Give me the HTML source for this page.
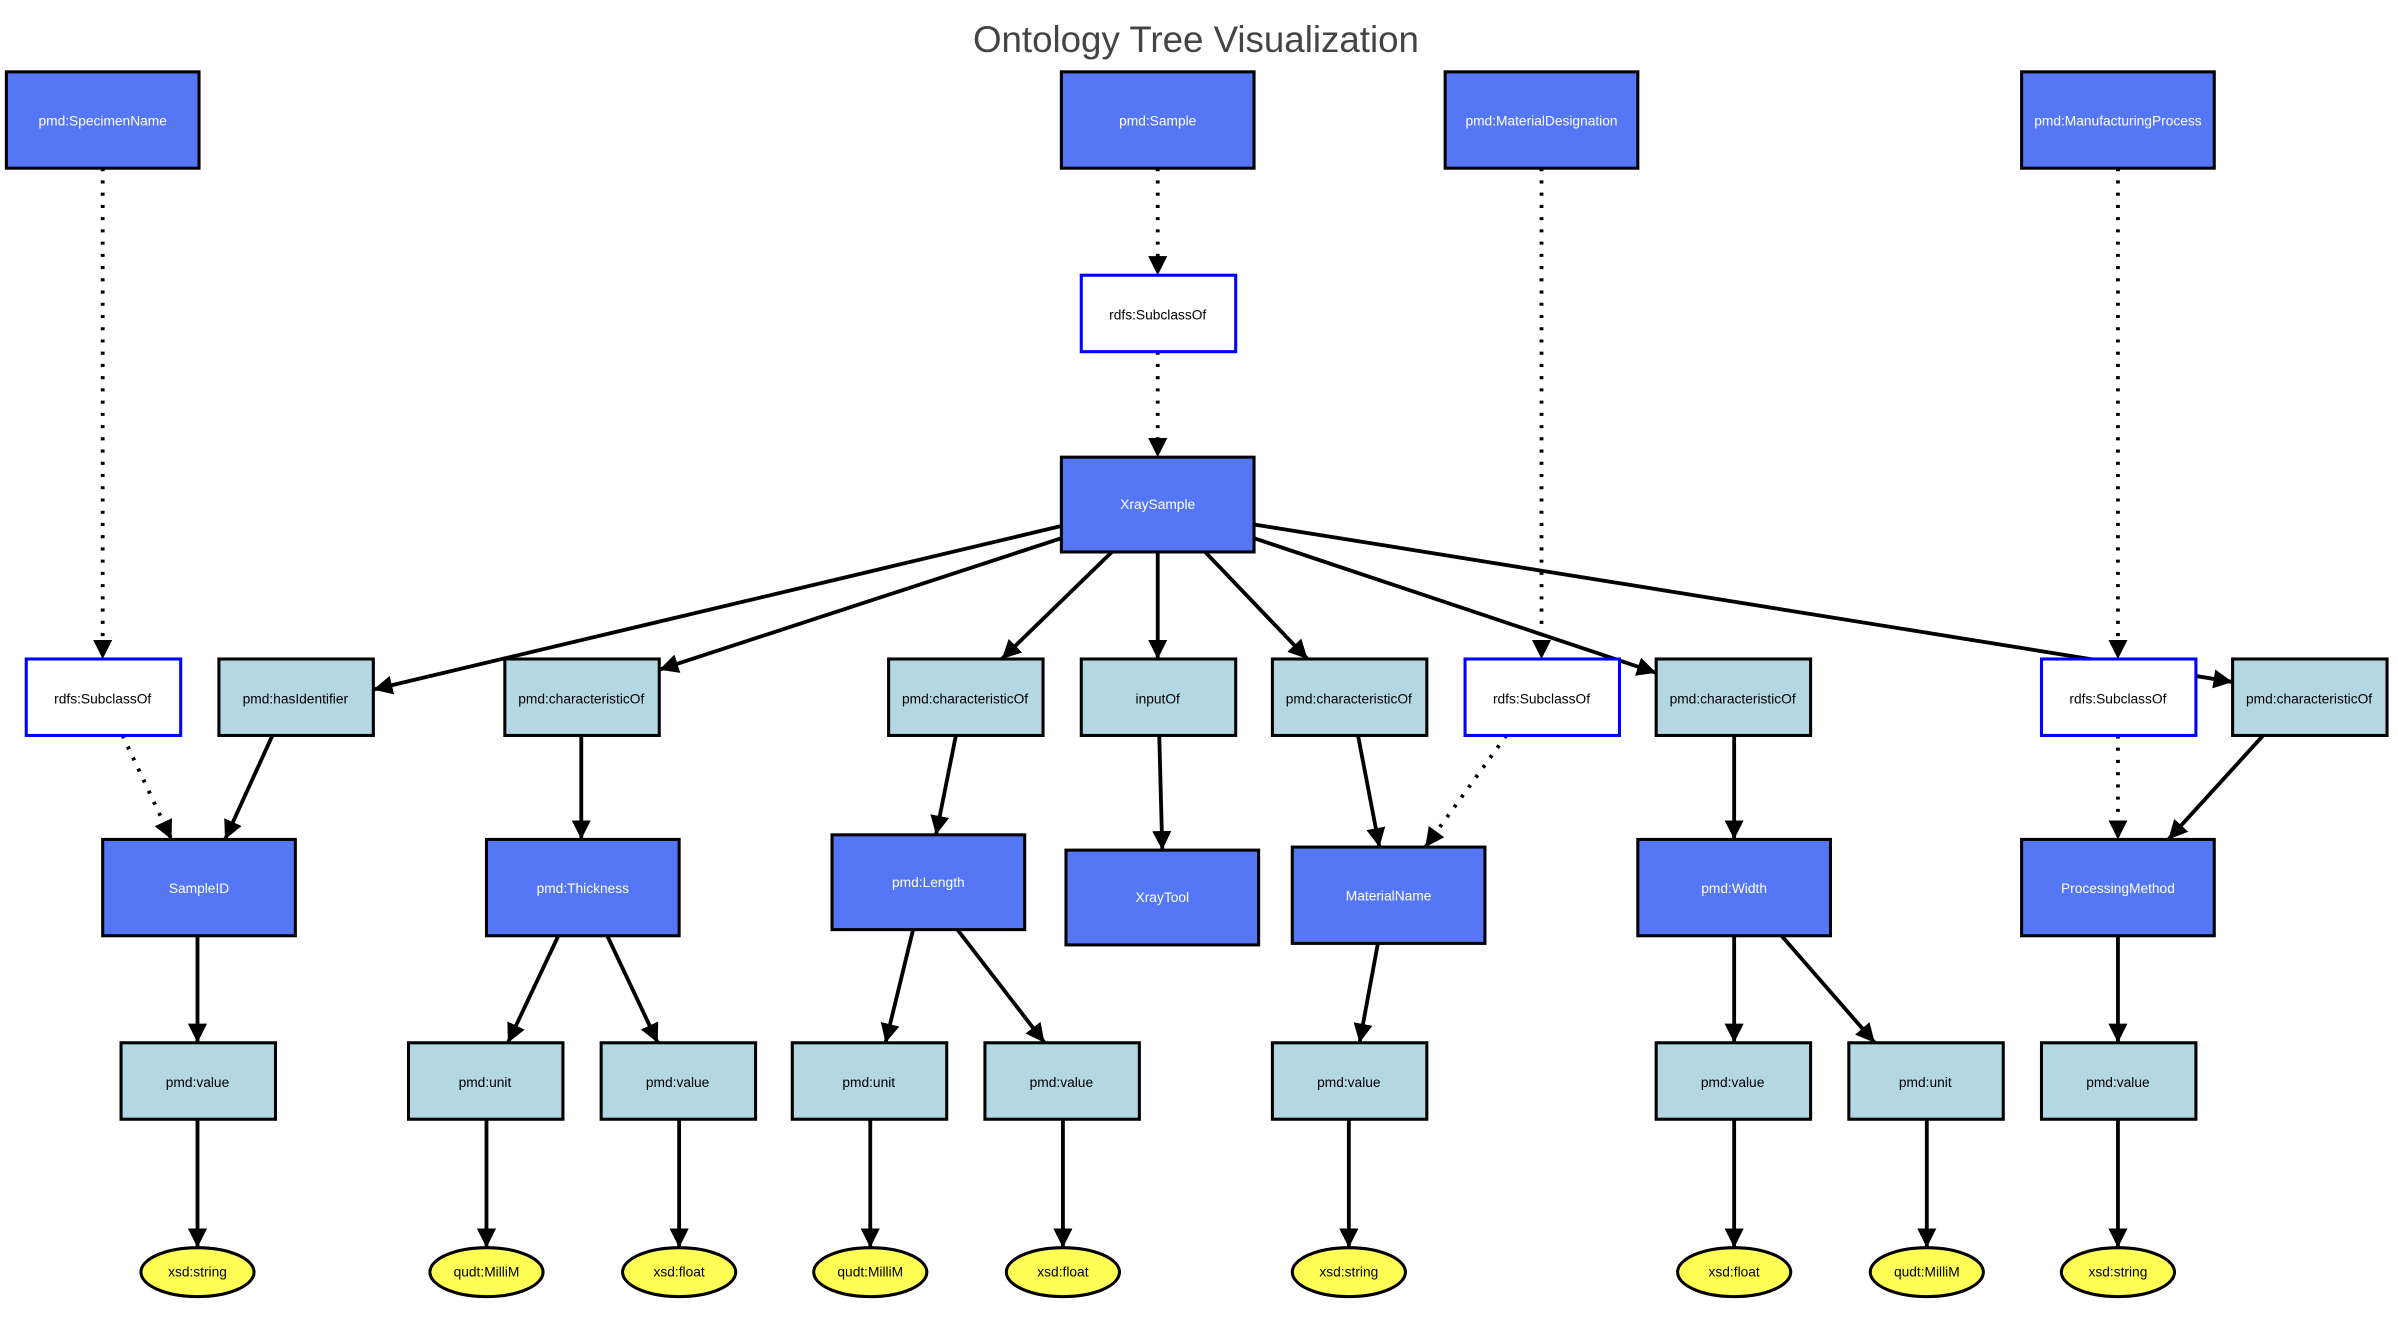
<!DOCTYPE html>
<html><head><meta charset="utf-8"><style>html,body{margin:0;padding:0;background:#fff}svg{display:block}</style></head>
<body>
<svg width="2398" height="1344" viewBox="0 0 1568 879" xmlns="http://www.w3.org/2000/svg" font-family="Liberation Sans, Arial, sans-serif">
<defs>
<marker id="a" viewBox="0 0 10 10" refX="10" refY="5" markerWidth="5" markerHeight="5" markerUnits="strokeWidth" orient="auto"><path d="M0,0L10,5L0,10z" fill="#000"/></marker>
</defs>
<rect width="1568" height="879" fill="#fff"/>
<text x="782" y="34" text-anchor="middle" font-size="24" fill="#444">Ontology Tree Visualization</text>
<g stroke="#000" stroke-width="2.5" fill="none" marker-end="url(#a)" stroke-dasharray="2,6" stroke-linecap="butt">
<line x1="67" y1="110" x2="67" y2="431"/>
<line x1="757" y1="110" x2="757" y2="180"/>
<line x1="757" y1="230" x2="757" y2="299"/>
<line x1="1008" y1="110" x2="1008" y2="431"/>
<line x1="1385" y1="110" x2="1385" y2="431"/>
<line x1="80" y1="481" x2="112" y2="549"/>
<line x1="985" y1="481" x2="932" y2="554"/>
<line x1="1385" y1="481" x2="1385" y2="549"/>
</g>
<g stroke="#000" stroke-width="2.5" fill="none" marker-end="url(#a)">
<line x1="694" y1="344" x2="244" y2="451"/>
<line x1="694" y1="352" x2="431" y2="438"/>
<line x1="727" y1="361" x2="655" y2="431"/>
<line x1="757" y1="361" x2="757" y2="431"/>
<line x1="788" y1="361" x2="855" y2="431"/>
<line x1="820" y1="352" x2="1083" y2="440"/>
<line x1="820" y1="343" x2="1460" y2="446"/>
<line x1="178" y1="481" x2="147" y2="549"/>
<line x1="380" y1="481" x2="380" y2="549"/>
<line x1="625" y1="481" x2="612" y2="546"/>
<line x1="758" y1="481" x2="760" y2="556"/>
<line x1="888" y1="481" x2="902" y2="554"/>
<line x1="1134" y1="481" x2="1134" y2="549"/>
<line x1="1480" y1="481" x2="1418" y2="549"/>
<line x1="129" y1="612" x2="129" y2="682"/>
<line x1="365" y1="612" x2="332" y2="682"/>
<line x1="397" y1="612" x2="430" y2="682"/>
<line x1="597" y1="608" x2="579" y2="682"/>
<line x1="626" y1="608" x2="683" y2="682"/>
<line x1="901" y1="617" x2="889" y2="682"/>
<line x1="1134" y1="612" x2="1134" y2="682"/>
<line x1="1165" y1="612" x2="1226" y2="682"/>
<line x1="1385" y1="612" x2="1385" y2="682"/>
<line x1="129" y1="732" x2="129" y2="816"/>
<line x1="318" y1="732" x2="318" y2="816"/>
<line x1="444" y1="732" x2="444" y2="816"/>
<line x1="569" y1="732" x2="569" y2="816"/>
<line x1="695" y1="732" x2="695" y2="816"/>
<line x1="882" y1="732" x2="882" y2="816"/>
<line x1="1134" y1="732" x2="1134" y2="816"/>
<line x1="1260" y1="732" x2="1260" y2="816"/>
<line x1="1385" y1="732" x2="1385" y2="816"/>
</g>
<g stroke="#000" stroke-width="2" fill="#5577f5">
<rect x="4" y="47" width="126" height="63"/>
<rect x="694" y="47" width="126" height="63"/>
<rect x="945" y="47" width="126" height="63"/>
<rect x="1322" y="47" width="126" height="63"/>
<rect x="694" y="299" width="126" height="62"/>
<rect x="67" y="549" width="126" height="63"/>
<rect x="318" y="549" width="126" height="63"/>
<rect x="544" y="546" width="126" height="62"/>
<rect x="697" y="556" width="126" height="62"/>
<rect x="845" y="554" width="126" height="63"/>
<rect x="1071" y="549" width="126" height="63"/>
<rect x="1322" y="549" width="126" height="63"/>
</g>
<g font-size="9" fill="#fff" text-anchor="middle">
<text x="67" y="82">pmd:SpecimenName</text>
<text x="757" y="82">pmd:Sample</text>
<text x="1008" y="82">pmd:MaterialDesignation</text>
<text x="1385" y="82">pmd:ManufacturingProcess</text>
<text x="757" y="333">XraySample</text>
<text x="130" y="584">SampleID</text>
<text x="381" y="584">pmd:Thickness</text>
<text x="607" y="580">pmd:Length</text>
<text x="760" y="590">XrayTool</text>
<text x="908" y="589">MaterialName</text>
<text x="1134" y="584">pmd:Width</text>
<text x="1385" y="584">ProcessingMethod</text>
</g>
<g stroke="#0000ff" stroke-width="2" fill="#fff">
<rect x="707" y="180" width="101" height="50"/>
<rect x="17" y="431" width="101" height="50"/>
<rect x="958" y="431" width="101" height="50"/>
<rect x="1335" y="431" width="101" height="50"/>
</g>
<g stroke="#000" stroke-width="2" fill="#b3d7e3">
<rect x="143" y="431" width="101" height="50"/>
<rect x="330" y="431" width="101" height="50"/>
<rect x="581" y="431" width="101" height="50"/>
<rect x="707" y="431" width="101" height="50"/>
<rect x="832" y="431" width="101" height="50"/>
<rect x="1083" y="431" width="101" height="50"/>
<rect x="1460" y="431" width="101" height="50"/>
<rect x="79" y="682" width="101" height="50"/>
<rect x="267" y="682" width="101" height="50"/>
<rect x="393" y="682" width="101" height="50"/>
<rect x="518" y="682" width="101" height="50"/>
<rect x="644" y="682" width="101" height="50"/>
<rect x="832" y="682" width="101" height="50"/>
<rect x="1083" y="682" width="101" height="50"/>
<rect x="1209" y="682" width="101" height="50"/>
<rect x="1335" y="682" width="101" height="50"/>
</g>
<g stroke="#000" stroke-width="2" fill="#ffff55">
<ellipse cx="129" cy="832" rx="37" ry="16"/>
<ellipse cx="318" cy="832" rx="37" ry="16"/>
<ellipse cx="444" cy="832" rx="37" ry="16"/>
<ellipse cx="569" cy="832" rx="37" ry="16"/>
<ellipse cx="695" cy="832" rx="37" ry="16"/>
<ellipse cx="882" cy="832" rx="37" ry="16"/>
<ellipse cx="1134" cy="832" rx="37" ry="16"/>
<ellipse cx="1260" cy="832" rx="37" ry="16"/>
<ellipse cx="1385" cy="832" rx="37" ry="16"/>
</g>
<g font-size="9" fill="#000" text-anchor="middle">
<text x="757" y="209">rdfs:SubclassOf</text>
<text x="67" y="460">rdfs:SubclassOf</text>
<text x="1008" y="460">rdfs:SubclassOf</text>
<text x="1385" y="460">rdfs:SubclassOf</text>
<text x="193" y="460">pmd:hasIdentifier</text>
<text x="380" y="460">pmd:characteristicOf</text>
<text x="631" y="460">pmd:characteristicOf</text>
<text x="757" y="460">inputOf</text>
<text x="882" y="460">pmd:characteristicOf</text>
<text x="1133" y="460">pmd:characteristicOf</text>
<text x="1510" y="460">pmd:characteristicOf</text>
<text x="129" y="711">pmd:value</text>
<text x="317" y="711">pmd:unit</text>
<text x="443" y="711">pmd:value</text>
<text x="568" y="711">pmd:unit</text>
<text x="694" y="711">pmd:value</text>
<text x="882" y="711">pmd:value</text>
<text x="1133" y="711">pmd:value</text>
<text x="1259" y="711">pmd:unit</text>
<text x="1385" y="711">pmd:value</text>
<text x="129" y="835">xsd:string</text>
<text x="318" y="835">qudt:MilliM</text>
<text x="444" y="835">xsd:float</text>
<text x="569" y="835">qudt:MilliM</text>
<text x="695" y="835">xsd:float</text>
<text x="882" y="835">xsd:string</text>
<text x="1134" y="835">xsd:float</text>
<text x="1260" y="835">qudt:MilliM</text>
<text x="1385" y="835">xsd:string</text>
</g>
</svg>
</body></html>
